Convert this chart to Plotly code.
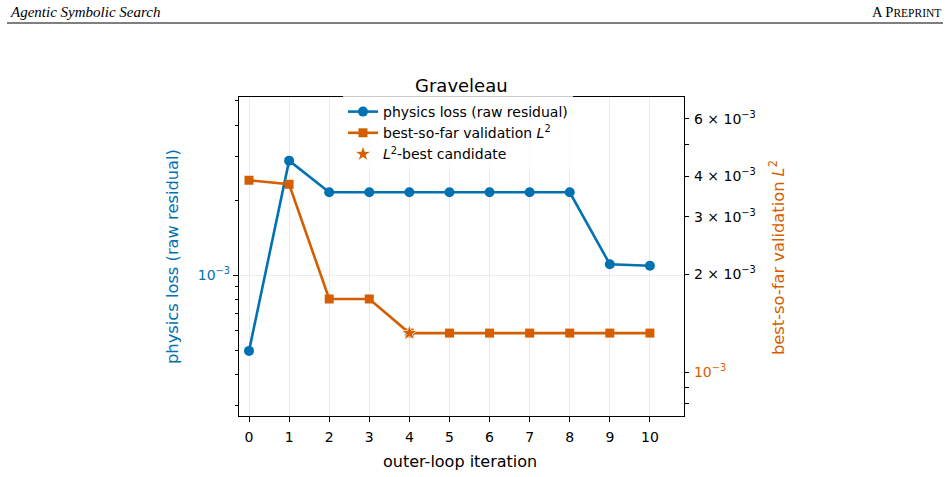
import plotly.graph_objects as go

# ---- data ----
iterations = [0, 1, 2, 3, 4, 5, 6, 7, 8, 9, 10]
physics_loss = [4.96e-4, 2.88e-3, 2.15e-3, 2.15e-3, 2.15e-3, 2.15e-3, 2.15e-3, 2.15e-3, 2.15e-3, 1.105e-3, 1.09e-3]
best_so_far_l2 = [3.89e-3, 3.78e-3, 1.68e-3, 1.68e-3, 1.32e-3, 1.32e-3, 1.32e-3, 1.32e-3, 1.32e-3, 1.32e-3, 1.32e-3]
x_ticks = [0, 1, 2, 3, 4, 5, 6, 7, 8, 9, 10]
left_major = [1e-3]
left_minor = [3e-4, 4e-4, 5e-4, 6e-4, 7e-4, 8e-4, 9e-4, 2e-3, 3e-3, 4e-3, 5e-3]
right_labelled = [1e-3, 2e-3, 3e-3, 4e-3, 6e-3]
right_labels = ["10<sup>−3</sup>", "2 × 10<sup>−3</sup>", "3 × 10<sup>−3</sup>",
                "4 × 10<sup>−3</sup>", "6 × 10<sup>−3</sup>"]
right_minor = [8e-4, 9e-4, 5e-3]

best_min = min(best_so_far_l2)
best_idx = best_so_far_l2.index(best_min)
best_iter = [iterations[best_idx]]
best_val = [best_so_far_l2[best_idx]]

BLUE = "#0072B2"
ORANGE = "#D55E00"
W, H = 950, 477
L, R, T, B = 239, 266, 97, 61
PW, PH = W - L - R, H - T - B


def px(x):
    return (x - L) / PW


def py(y):
    return (H - B - y) / PH


fig = go.Figure()
fig.add_trace(go.Scatter(
    x=iterations, y=physics_loss, mode="lines+markers", name="physics loss (raw residual)",
    line=dict(color=BLUE, width=2.6), marker=dict(symbol="circle", size=10, color=BLUE),
    yaxis="y"))
fig.add_trace(go.Scatter(
    x=iterations, y=best_so_far_l2, mode="lines+markers",
    name="best-so-far validation <i>L</i><sup>2</sup>",
    line=dict(color=ORANGE, width=2.6), marker=dict(symbol="square", size=9, color=ORANGE),
    yaxis="y2"))
fig.add_trace(go.Scatter(
    x=best_iter, y=best_val, mode="markers", name="<i>L</i><sup>2</sup>-best candidate",
    marker=dict(symbol="star", size=12, color=ORANGE, line=dict(color="white", width=0.8)),
    yaxis="y2"))

font_main = "DejaVu Sans"
TICK = 14
fig.update_layout(
    width=W, height=H,
    margin=dict(l=L, r=R, t=T, b=B, autoexpand=False),
    paper_bgcolor="white", plot_bgcolor="white",
    font=dict(family=font_main, size=TICK, color="black"),
    showlegend=True,
    legend=dict(x=px(343), y=py(96), xanchor="left", yanchor="top",
                bgcolor="rgba(255,255,255,0.8)", borderwidth=0,
                font=dict(size=14, family=font_main)),
    xaxis=dict(range=[-0.25, 10.85], tickvals=x_ticks, ticks="outside", ticklen=5,
               tickwidth=1.2, tickcolor="black", showline=True, linecolor="black",
               linewidth=1.3, mirror=True, showgrid=True, gridcolor="#ebebeb",
               gridwidth=1, zeroline=False, tickfont=dict(size=TICK),
               ticklabelstandoff=3),
    yaxis=dict(type="log", range=[-3.566, -2.285], tickvals=left_major,
               ticktext=["10<sup>−3</sup>"], tickfont=dict(color=BLUE, size=TICK),
               ticks="outside", ticklen=5, tickwidth=1.2, tickcolor="black",
               showline=True, linecolor="black", linewidth=1.3,
               showgrid=True, gridcolor="#ebebeb", gridwidth=1, zeroline=False,
               minor=dict(tickvals=left_minor, ticks="outside", ticklen=3,
                          tickwidth=1, tickcolor="black", showgrid=False)),
    yaxis2=dict(type="log", range=[-3.134, -2.1545], overlaying="y", side="right",
                anchor="x", tickvals=right_labelled,
                ticktext=['<span style="color:%s">%s</span>' % (ORANGE, right_labels[0])] + right_labels[1:],
                tickfont=dict(color="black", size=TICK), ticklabelstandoff=2,
                ticks="outside", ticklen=4, tickwidth=1.2, tickcolor="black",
                showline=True, linecolor="black", linewidth=1.3,
                showgrid=False, zeroline=False,
                minor=dict(tickvals=right_minor, ticks="outside", ticklen=4,
                           tickwidth=1, tickcolor="black", showgrid=False)),
    yaxis3=dict(type="log", range=[-3.134, -2.1545], overlaying="y", side="right",
                anchor="x", tickvals=[1e-3], showticklabels=False,
                ticks="outside", ticklen=6, tickwidth=1.2, tickcolor="black",
                showline=False, showgrid=False, zeroline=False),
)

annotations = [
    dict(text="Graveleau", x=px(461), y=py(86), xref="paper", yref="paper",
         showarrow=False, font=dict(size=18, family=font_main, color="black"),
         xanchor="center", yanchor="middle"),
    dict(text="outer-loop iteration", x=px(460), y=py(461.5), xref="paper", yref="paper",
         showarrow=False, font=dict(size=16, family=font_main, color="black"),
         xanchor="center", yanchor="middle"),
    dict(text="physics loss (raw residual)", x=px(172), y=py(257), xref="paper", yref="paper",
         showarrow=False, textangle=-90, font=dict(size=16.3, family=font_main, color=BLUE),
         xanchor="center", yanchor="middle"),
    dict(text="best-so-far validation <i>L</i><sup>2</sup>", x=px(776.5), y=py(257.5),
         xref="paper", yref="paper", showarrow=False, textangle=-90,
         font=dict(size=16.3, family=font_main, color=ORANGE),
         xanchor="center", yanchor="middle"),
    dict(text="Agentic Symbolic Search", x=px(8), y=py(12), xref="paper", yref="paper",
         showarrow=False, xanchor="left", yanchor="middle",
         font=dict(size=15, family="Liberation Serif", color="black", style="italic")),
    dict(text='A P<span style="font-size:11.5px">REPRINT</span>', x=px(943), y=py(12),
         xref="paper", yref="paper", showarrow=False, xanchor="right", yanchor="middle",
         font=dict(size=14.5, family="Liberation Serif", color="black")),
]
fig.update_layout(annotations=annotations)
fig.add_shape(type="line", xref="paper", yref="paper", x0=px(7), x1=px(943),
              y0=py(23), y1=py(23), line=dict(color="black", width=1))

fig.write_html("out.html")
